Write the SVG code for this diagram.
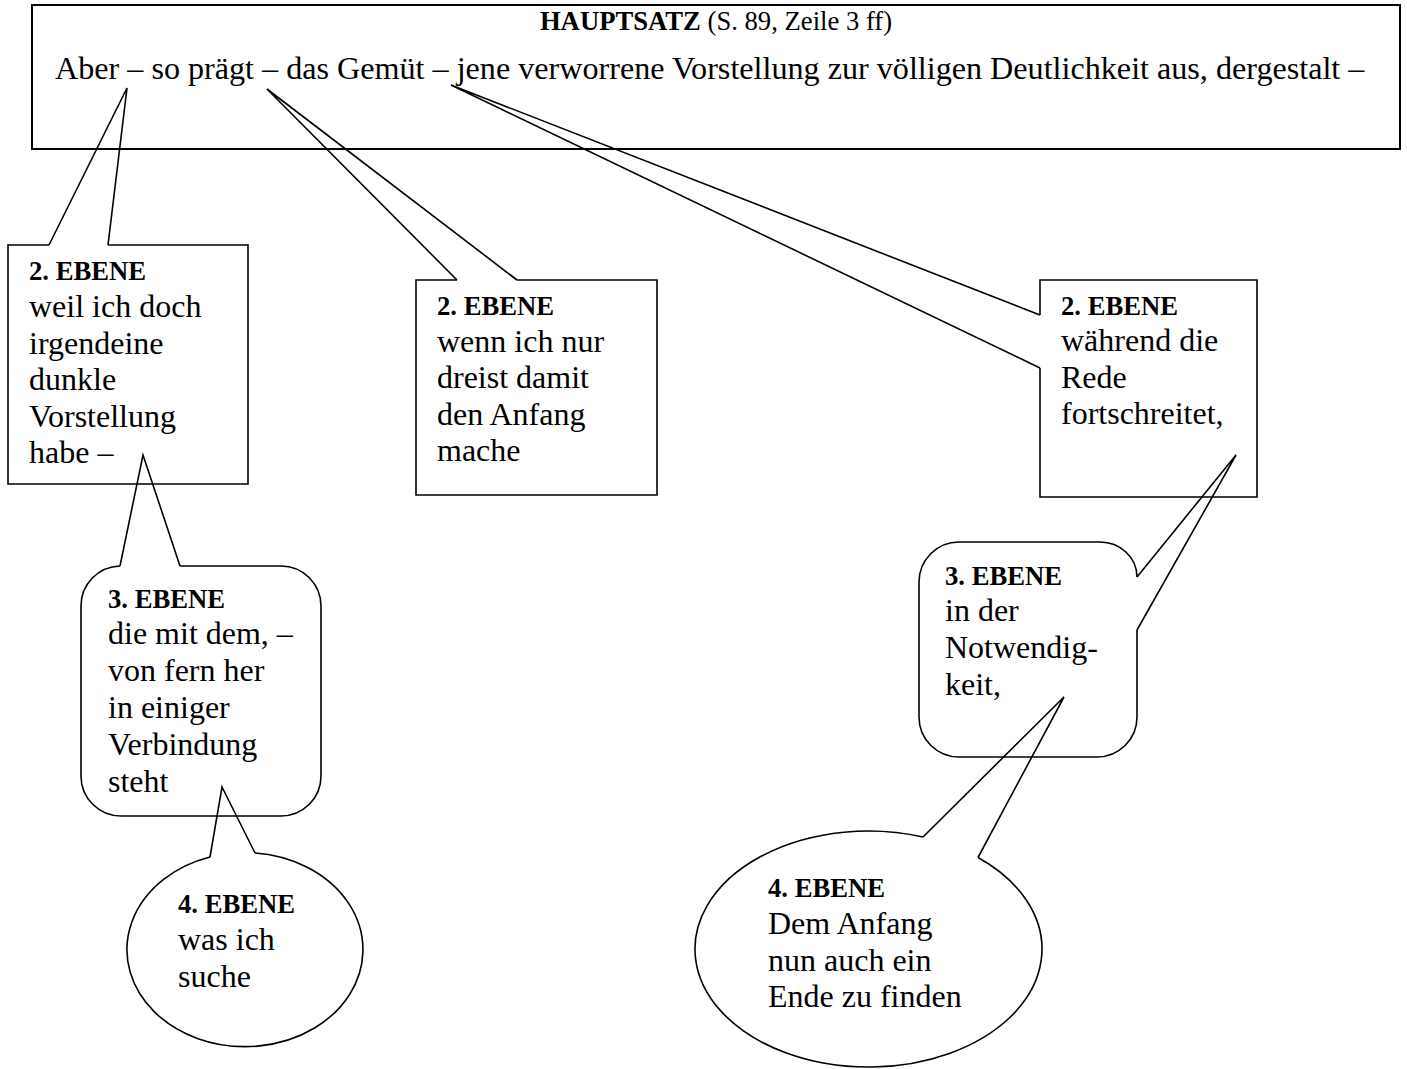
<svg xmlns="http://www.w3.org/2000/svg" width="1407" height="1069" viewBox="0 0 1407 1069">
<style>
.bg{fill:#ffffff}
.shape{fill:none;stroke:#000;stroke-width:1.6;stroke-linejoin:miter}
.main{fill:none;stroke:#000;stroke-width:2}
.tail{fill:none;stroke:#000;stroke-width:1.6;stroke-linejoin:miter}
text{font-family:"Liberation Serif","Times New Roman",serif;fill:#000}
.lbl{font-weight:bold;font-size:26.67px}
.body{font-size:32px}
.title{font-size:26.67px}
</style>
<rect class="bg" x="0" y="0" width="1407" height="1069"/>

<g id="hauptsatz">
  <rect class="main" x="32" y="5" width="1368" height="144"/>
  <text class="title" x="716" y="30" text-anchor="middle"><tspan font-weight="bold">HAUPTSATZ</tspan> (S. 89, Zeile 3 ff)</text>
  <text class="body" x="55" y="79" style="font-size:32.15px">Aber – so prägt – das Gemüt – jene verworrene Vorstellung zur völligen Deutlichkeit aus, dergestalt –</text>
</g>

<g id="ebene2-weil">
  <path class="shape" d="M49,245 H8 V484 H248 V245 H108"/>
  <text x="29" y="280"><tspan class="lbl">2. EBENE</tspan><tspan class="body" x="29" dy="37">weil ich doch</tspan><tspan class="body" x="29" dy="36.6">irgendeine</tspan><tspan class="body" x="29" dy="36.6">dunkle</tspan><tspan class="body" x="29" dy="36.6">Vorstellung</tspan><tspan class="body" x="29" dy="36.6">habe –</tspan></text>
</g>

<g id="ebene2-wenn">
  <path class="shape" d="M457,280 H416 V495 H657 V280 H517"/>
  <text x="437" y="315"><tspan class="lbl">2. EBENE</tspan><tspan class="body" x="437" dy="37">wenn ich nur</tspan><tspan class="body" x="437" dy="36.3">dreist damit</tspan><tspan class="body" x="437" dy="36.3">den Anfang</tspan><tspan class="body" x="437" dy="36.3">mache</tspan></text>
</g>

<g id="ebene2-waehrend">
  <path class="shape" d="M1040,315 V280 H1257 V497 H1040 V368"/>
  <text x="1061" y="315"><tspan class="lbl">2. EBENE</tspan><tspan class="body" x="1061" dy="36">während die</tspan><tspan class="body" x="1061" dy="36.5">Rede</tspan><tspan class="body" x="1061" dy="36.5">fortschreitet,</tspan></text>
</g>

<g id="ebene3-die">
  <path class="shape" d="M180,566 H281 A40,40 0 0 1 321,606 V776 A40,40 0 0 1 281,816 H121 A40,40 0 0 1 81,776 V606 A40,40 0 0 1 120,566"/>
  <text x="108" y="608"><tspan class="lbl">3. EBENE</tspan><tspan class="body" x="108" dy="36">die mit dem, –</tspan><tspan class="body" x="108" dy="37">von fern her</tspan><tspan class="body" x="108" dy="37">in einiger</tspan><tspan class="body" x="108" dy="37">Verbindung</tspan><tspan class="body" x="108" dy="37">steht</tspan></text>
</g>

<g id="ebene3-notwendigkeit">
  <path class="shape" d="M1137,630 V717 A40,40 0 0 1 1097,757 H959 A40,40 0 0 1 919,717 V582 A40,40 0 0 1 959,542 H1100 A37,35 0 0 1 1137,577"/>
  <text x="945" y="585"><tspan class="lbl">3. EBENE</tspan><tspan class="body" x="945" dy="36">in der</tspan><tspan class="body" x="945" dy="37">Notwendig-</tspan><tspan class="body" x="945" dy="37">keit,</tspan></text>
</g>

<g id="ebene4-suche">
  <path class="shape" d="M255,853 A118,97 0 1 1 210,857"/>
  <text x="178" y="913"><tspan class="lbl">4. EBENE</tspan><tspan class="body" x="178" dy="37">was ich</tspan><tspan class="body" x="178" dy="37">suche</tspan></text>
</g>

<g id="ebene4-ende">
  <path class="shape" d="M978,857.5 A173.5,118 0 1 1 923,837"/>
  <text x="768" y="897"><tspan class="lbl">4. EBENE</tspan><tspan class="body" x="768" dy="37">Dem Anfang</tspan><tspan class="body" x="768" dy="37">nun auch ein</tspan><tspan class="body" x="768" dy="36">Ende zu finden</tspan></text>
</g>

<g id="connectors">
  <polyline class="tail" points="49,245 127,88 108,245"/>
  <polyline class="tail" points="457,280 267,89 517,280"/>
  <polyline class="tail" points="1040,315 451,85 1040,368"/>
  <polyline class="tail" points="120,566 143,455 180,566"/>
  <polyline class="tail" points="1137,577 1236,455 1137,630"/>
  <polyline class="tail" points="210,857 222,787 255,853"/>
  <polyline class="tail" points="923,837 1064,697 978,857.5"/>
</g>
</svg>
